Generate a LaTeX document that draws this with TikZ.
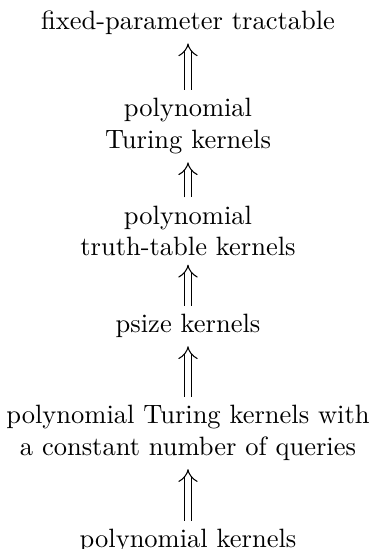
\documentclass[tikz,border=0pt]{standalone}
\usetikzlibrary{arrows.meta}

\begin{document}
\begin{tikzpicture}[x=0.3774pt,y=-0.3774pt,
    cls/.style={align=center,inner sep=2pt},
    imp/.style={double,double distance=2.2pt,-{Implies},shorten >=1pt,shorten <=1pt}]
    \useasboundingbox (0,0) rectangle (376,549);

    \node[cls] (fpt) at (188,23) {fixed-parameter tractable};
    \node[cls] (ptk) at (188,126) {polynomial\\Turing kernels};
    \node[cls] (ptt) at (188,231) {polynomial\\truth-table kernels};
    \node[cls] (psz) at (188,326) {psize kernels};
    \node[cls] (ptc) at (188,433) {polynomial Turing kernels with\\a constant number of queries};
    \node[cls] (pk) at (188,541) {polynomial kernels};

    \draw[imp] (ptk) -- (fpt);
    \draw[imp] (ptt) -- (ptk);
    \draw[imp] (psz) -- (ptt);
    \draw[imp] (ptc) -- (psz);
    \draw[imp] (pk) -- (ptc);
\end{tikzpicture}
\end{document}
